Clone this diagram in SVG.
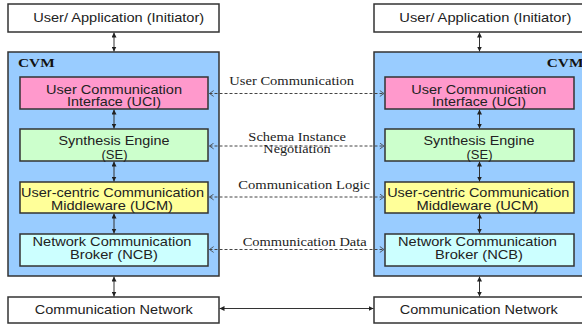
<svg xmlns="http://www.w3.org/2000/svg" width="582" height="325" viewBox="0 0 582 325">
<defs>
<style>
.box{stroke:#333;stroke-width:1.5}
.plain{fill:#fff}
.cvm{fill:#99ccff}
.uci{fill:#ff99cc}
.se{fill:#ccffcc}
.ucm{fill:#ffff99}
.ncb{fill:#ccffff}
.t{font-family:"Liberation Sans",Arial,sans-serif;font-size:12.2px;fill:#222;text-anchor:middle}
.lbl{font-family:"Liberation Serif","Times New Roman",serif;font-size:11.5px;fill:#222;text-anchor:middle}
.cv{font-family:"Liberation Serif","Times New Roman",serif;font-size:11.5px;font-weight:bold;fill:#111}
.solid{stroke:#333;stroke-width:1;fill:none;marker-start:url(#arr);marker-end:url(#arr)}
.dash{stroke:#444;stroke-width:1;fill:none;stroke-dasharray:3 2;marker-start:url(#chev);marker-end:url(#chev)}
</style>
<marker id="arr" viewBox="0 0 6 6" refX="6" refY="3" markerWidth="5" markerHeight="5" markerUnits="userSpaceOnUse" orient="auto-start-reverse">
<path d="M0,0 L6,3 L0,6 z" fill="#222"/>
</marker>
<marker id="chev" viewBox="0 0 6 8" refX="5.5" refY="4" markerWidth="5" markerHeight="7" markerUnits="userSpaceOnUse" orient="auto-start-reverse">
<path d="M0.5,0.5 L5.5,4 L0.5,7.5" fill="none" stroke="#444" stroke-width="1"/>
</marker>
</defs>
<rect width="582" height="325" fill="#fff"/>

<!-- Left side -->
<g id="app-left">
<rect class="box plain" x="8" y="4" width="211" height="28"/>
<text class="t" x="118.7" y="22" textLength="171" lengthAdjust="spacingAndGlyphs">User/ Application (Initiator)</text>
</g>
<g id="cvm-left">
<rect class="box cvm" x="8" y="52" width="211" height="224"/>
<text class="cv" x="18" y="66.5" textLength="36.7" lengthAdjust="spacingAndGlyphs">CVM</text>
</g>
<g id="uci-left">
<rect class="box uci" x="20" y="77" width="188" height="32"/>
<text class="t" x="114" y="93.5" textLength="136" lengthAdjust="spacingAndGlyphs">User Communication</text>
<text class="t" x="114" y="106" textLength="94" lengthAdjust="spacingAndGlyphs">Interface (UCI)</text>
</g>
<g id="se-left">
<rect class="box se" x="20" y="129" width="188" height="32"/>
<text class="t" x="114" y="145" textLength="111" lengthAdjust="spacingAndGlyphs">Synthesis Engine</text>
<text class="t" x="114.5" y="158.5" textLength="26" lengthAdjust="spacingAndGlyphs">(SE)</text>
</g>
<g id="ucm-left">
<rect class="box ucm" x="20" y="182" width="188" height="31"/>
<text class="t" x="112.5" y="197" textLength="183" lengthAdjust="spacingAndGlyphs">User-centric Communication</text>
<text class="t" x="112" y="210" textLength="122" lengthAdjust="spacingAndGlyphs">Middleware (UCM)</text>
</g>
<g id="ncb-left">
<rect class="box ncb" x="20" y="234" width="188" height="32"/>
<text class="t" x="112" y="245.5" textLength="159" lengthAdjust="spacingAndGlyphs">Network Communication</text>
<text class="t" x="114" y="258.5" textLength="88" lengthAdjust="spacingAndGlyphs">Broker (NCB)</text>
</g>
<g id="net-left">
<rect class="box plain" x="8" y="297" width="211" height="26"/>
<text class="t" x="113.8" y="314" textLength="158" lengthAdjust="spacingAndGlyphs">Communication Network</text>
</g>

<!-- Right side -->
<g id="app-right">
<rect class="box plain" x="374" y="4" width="216" height="28"/>
<text class="t" x="485.3" y="22" textLength="172" lengthAdjust="spacingAndGlyphs">User/ Application (Initiator)</text>
</g>
<g id="cvm-right">
<rect class="box cvm" x="374" y="52" width="216" height="224"/>
<text class="cv" x="546.7" y="66.5" textLength="36.7" lengthAdjust="spacingAndGlyphs">CVM</text>
</g>
<g id="uci-right">
<rect class="box uci" x="385" y="77" width="189" height="32"/>
<text class="t" x="478.8" y="93.5" textLength="135" lengthAdjust="spacingAndGlyphs">User Communication</text>
<text class="t" x="479" y="106" textLength="94" lengthAdjust="spacingAndGlyphs">Interface (UCI)</text>
</g>
<g id="se-right">
<rect class="box se" x="385" y="129" width="189" height="32"/>
<text class="t" x="479" y="145" textLength="111" lengthAdjust="spacingAndGlyphs">Synthesis Engine</text>
<text class="t" x="479.5" y="158.5" textLength="26" lengthAdjust="spacingAndGlyphs">(SE)</text>
</g>
<g id="ucm-right">
<rect class="box ucm" x="385" y="182" width="189" height="31"/>
<text class="t" x="478.2" y="197" textLength="182" lengthAdjust="spacingAndGlyphs">User-centric Communication</text>
<text class="t" x="477.5" y="210" textLength="122" lengthAdjust="spacingAndGlyphs">Middleware (UCM)</text>
</g>
<g id="ncb-right">
<rect class="box ncb" x="385" y="234" width="189" height="32"/>
<text class="t" x="477.5" y="245.5" textLength="159" lengthAdjust="spacingAndGlyphs">Network Communication</text>
<text class="t" x="479" y="258.5" textLength="88" lengthAdjust="spacingAndGlyphs">Broker (NCB)</text>
</g>
<g id="net-right">
<rect class="box plain" x="374" y="297" width="216" height="26"/>
<text class="t" x="478.8" y="314" textLength="158" lengthAdjust="spacingAndGlyphs">Communication Network</text>
</g>

<!-- Connectors -->
<g id="connectors">
<line class="solid" x1="114" y1="32.5" x2="114" y2="51.5"/>
<line class="solid" x1="114" y1="109.5" x2="114" y2="128.5"/>
<line class="solid" x1="114" y1="161.5" x2="114" y2="181.5"/>
<line class="solid" x1="114" y1="213.5" x2="114" y2="233.5"/>
<line class="solid" x1="114" y1="276.5" x2="114" y2="296.5"/>
<line class="solid" x1="479.5" y1="32.5" x2="479.5" y2="51.5"/>
<line class="solid" x1="479.5" y1="109.5" x2="479.5" y2="128.5"/>
<line class="solid" x1="479.5" y1="161.5" x2="479.5" y2="181.5"/>
<line class="solid" x1="479.5" y1="213.5" x2="479.5" y2="233.5"/>
<line class="solid" x1="479.5" y1="276.5" x2="479.5" y2="296.5"/>
<line class="solid" x1="219.5" y1="308.5" x2="373.5" y2="308.5"/>
<line class="dash" x1="209.5" y1="93.5" x2="384" y2="93.5"/>
<line class="dash" x1="209.5" y1="146" x2="384" y2="146"/>
<line class="dash" x1="209.5" y1="197" x2="384" y2="197"/>
<line class="dash" x1="209.5" y1="249.5" x2="384" y2="249.5"/>
<text class="lbl" x="291.7" y="85" textLength="124.7" lengthAdjust="spacingAndGlyphs">User Communication</text>
<text class="lbl" x="297.2" y="141" textLength="97.7" lengthAdjust="spacingAndGlyphs">Schema Instance</text>
<text class="lbl" x="297" y="153" textLength="67.3" lengthAdjust="spacingAndGlyphs">Negotiation</text>
<text class="lbl" x="304.2" y="189" textLength="131.7" lengthAdjust="spacingAndGlyphs">Communication Logic</text>
<text class="lbl" x="304.7" y="245.5" textLength="124" lengthAdjust="spacingAndGlyphs">Communication Data</text>
</g>
</svg>
